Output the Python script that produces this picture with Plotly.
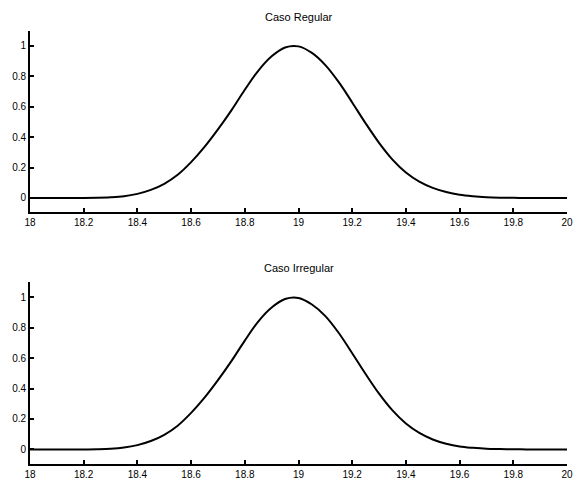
import plotly.graph_objects as go
from plotly.subplots import make_subplots

# Data
x_vals = [18.00, 18.05, 18.10, 18.15, 18.20, 18.25, 18.30, 18.35, 18.40, 18.45,
          18.50, 18.55, 18.60, 18.65, 18.70, 18.75, 18.80, 18.85, 18.90, 18.95,
          19.00, 19.05, 19.10, 19.15, 19.20, 19.25, 19.30, 19.35, 19.40,
          19.45, 19.50, 19.55, 19.60, 19.65, 19.70, 19.75, 19.80, 19.85, 19.90,
          19.95, 20.00]
y_regular = [0.0, 0.0, 0.0, 0.0, 0.0, 0.001, 0.004, 0.011, 0.027, 0.053,
             0.093, 0.152, 0.235, 0.335, 0.450, 0.575, 0.710, 0.835, 0.930, 0.988,
             0.995, 0.952, 0.872, 0.760, 0.627, 0.490, 0.362, 0.252, 0.167,
             0.107, 0.066, 0.039, 0.021, 0.011, 0.005, 0.002, 0.001, 0.0, 0.0,
             0.0, 0.0]
y_irregular = [0.0, 0.0, 0.0, 0.0, 0.0, 0.001, 0.004, 0.012, 0.028, 0.055,
               0.096, 0.156, 0.240, 0.340, 0.455, 0.580, 0.715, 0.840, 0.932, 0.988,
               0.995, 0.952, 0.876, 0.765, 0.632, 0.495, 0.366, 0.256, 0.170,
               0.108, 0.065, 0.037, 0.019, 0.010, 0.004, 0.002, 0.001, 0.0, 0.0,
               0.0, 0.0]

x_tickvals = [18, 18.2, 18.4, 18.6, 18.8, 19, 19.2, 19.4, 19.6, 19.8, 20]
x_ticktext = ["18", "18.2", "18.4", "18.6", "18.8", "19", "19.2", "19.4", "19.6", "19.8", "20"]
y_tickvals = [0, 0.2, 0.4, 0.6, 0.8, 1]
y_ticktext = ["0", "0.2", "0.4", "0.6", "0.8", "1"]
titles = ["Caso Regular", "Caso Irregular"]

fig = make_subplots(rows=2, cols=1)
fig.add_trace(go.Scatter(x=x_vals, y=y_regular, mode="lines",
                         line=dict(color="black", width=2, shape="spline", smoothing=1.0),
                         showlegend=False), row=1, col=1)
fig.add_trace(go.Scatter(x=x_vals, y=y_irregular, mode="lines",
                         line=dict(color="black", width=2, shape="spline", smoothing=1.0),
                         showlegend=False), row=2, col=1)

font = dict(family="Liberation Sans, Arial, sans-serif", size=10, color="black")
tfont = dict(family="Liberation Sans, Arial, sans-serif", size=11, color="black")

xax = dict(range=[18, 20], tickvals=x_tickvals, ticktext=x_ticktext,
           ticks="inside", ticklen=4, tickwidth=1.5, tickcolor="black",
           showline=True, linecolor="black", linewidth=1.8, mirror=False,
           showgrid=False, zeroline=False, tickfont=font, automargin=False)
yax = dict(tickvals=y_tickvals, ticktext=y_ticktext,
           ticks="inside", ticklen=4, tickwidth=1.5, tickcolor="black",
           showline=True, linecolor="black", linewidth=1.8, mirror=False,
           showgrid=False, zeroline=False, tickfont=font, automargin=False)

fig.update_layout(
    width=574, height=482,
    margin=dict(l=30, r=7, t=31, b=18),
    paper_bgcolor="white", plot_bgcolor="white",
    xaxis=dict(**xax, domain=[0, 1], anchor="y"),
    yaxis=dict(**yax, domain=[0.582, 1.0], range=[-0.092, 1.096], anchor="x"),
    xaxis2=dict(**xax, domain=[0, 1], anchor="y2"),
    yaxis2=dict(**yax, domain=[0.0, 0.421], range=[-0.096, 1.102], anchor="x2"),
    annotations=[
        dict(text=titles[0], x=0.5, y=1.032, xref="paper", yref="paper",
             showarrow=False, xanchor="center", yanchor="middle", font=tfont),
        dict(text=titles[1], x=0.5, y=0.453, xref="paper", yref="paper",
             showarrow=False, xanchor="center", yanchor="middle", font=tfont),
    ],
)

fig.write_html("out.html")
